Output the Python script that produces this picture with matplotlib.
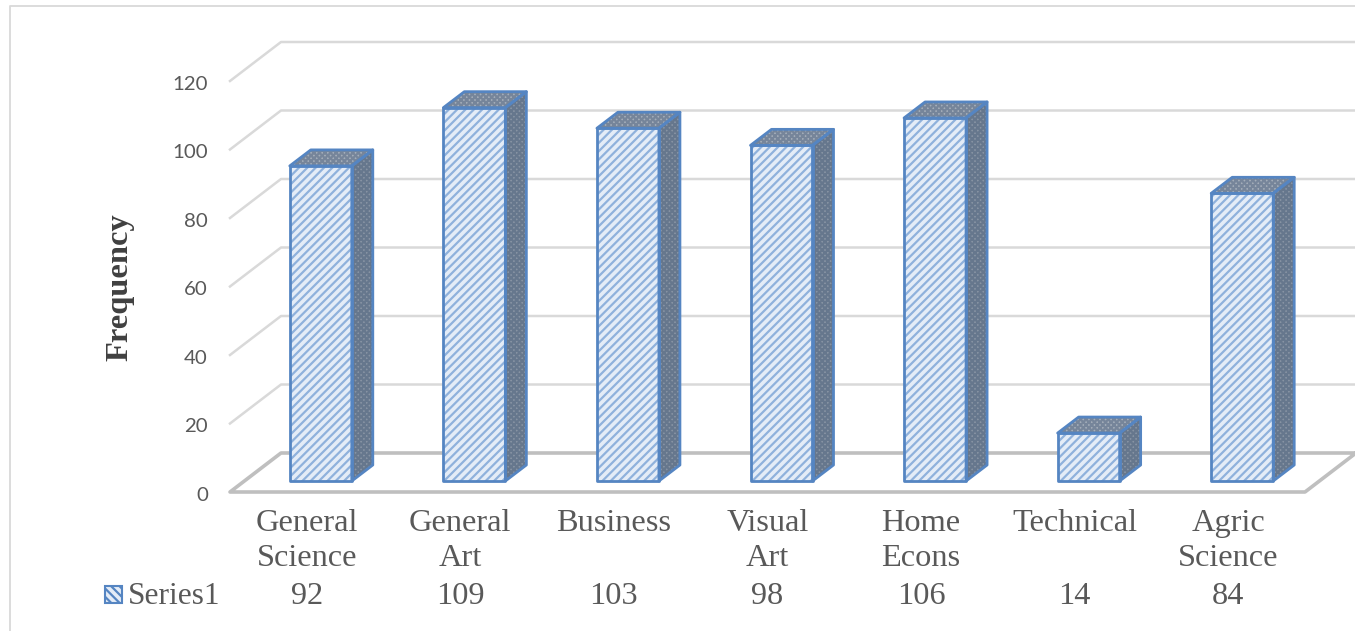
import matplotlib
matplotlib.use("Agg")
import matplotlib.pyplot as plt
from matplotlib.patches import Polygon, Rectangle
from matplotlib.lines import Line2D
from matplotlib.transforms import Affine2D, IdentityTransform

categories = ["General\nScience", "General\nArt", "Business", "Visual\nArt", "Home\nEcons", "Technical", "Agric\nScience"]
values = [92, 109, 103, 98, 106, 14, 84]
series_name = "Series1"
y_ticks = [0, 20, 40, 60, 80, 100, 120]

W, H = 1355, 631
BLUE = "#5585c2"
TEXT = "#595959"
SERIF = "Liberation Serif"
plt.rcParams["hatch.linewidth"] = 1.6

fig = plt.figure(figsize=(W / 100, H / 100), dpi=100)
ax = fig.add_axes([230 / W, (H - 492) / H, 1075 / W, 411 / H])
ax.set_xlim(0, 7)
ax.set_ylim(0, 120)
ax.patch.set_visible(False)
for s in ax.spines.values():
    s.set_visible(False)


# oblique 3d look: shift in pixels from the front plane
def shifted(dx, dy):
    return ax.transData + Affine2D().translate(dx, dy)


pixels = IdentityTransform()

# back wall gridlines, side line + back line
for t in y_ticks[1:]:
    x0, y0 = ax.transData.transform((0, t))
    ax.add_line(Line2D([x0, x0 + 51, W], [y0, y0 + 39, y0 + 39], color="#d9d9d9", lw=1.8,
                       transform=pixels, clip_on=False, zorder=1))

# floor
fx0, fy0 = ax.transData.transform((0, 0))
fx1, fy1 = ax.transData.transform((7, 0))
ax.add_line(Line2D([W, fx0 + 51, fx0, fx1, fx1 + 51], [fy0 + 39, fy0 + 39, fy0, fy1, fy1 + 39],
                   color="#bfbfbf", lw=2.6, transform=pixels, clip_on=False, zorder=1.5))

# bars
bar_w = 62 / (1075 / 7)
front = shifted(14, 11)
for i, v in enumerate(values):
    x0 = i + 0.5 - bar_w / 2
    x1 = x0 + bar_w
    fx, fy = front.transform((x0, 0))
    fx2, fy2 = front.transform((x1, v))
    side = [(fx2, fy), (fx2, fy2), (fx2 + 21, fy2 + 16), (fx2 + 21, fy + 16)]
    top = [(fx, fy2), (fx2, fy2), (fx2 + 21, fy2 + 16), (fx + 21, fy2 + 16)]
    ax.add_patch(Polygon(side, closed=True, transform=pixels, facecolor="#8894a4", edgecolor="#66778d",
                         hatch="xxxxxx", lw=0, zorder=3))
    ax.add_patch(Polygon(top, closed=True, transform=pixels, facecolor="#a4aeba", edgecolor="#76859a",
                         hatch="xxxxxx", lw=0, zorder=3))
    for pts in (side, top):
        ax.add_patch(Polygon(pts, closed=True, transform=pixels, fill=False, edgecolor=BLUE, lw=2.0,
                             joinstyle="round", zorder=4))
    ax.add_patch(Rectangle((x0, 0), bar_w, v, transform=front, facecolor="#e4ecf7", edgecolor="#8fb1dc",
                           hatch="////", lw=0, zorder=3))
    ax.add_patch(Rectangle((x0, 0), bar_w, v, transform=front, fill=False, edgecolor=BLUE, lw=2.0,
                           joinstyle="round", zorder=4))

# axes text
ax.set_yticks(y_ticks)
ax.set_yticklabels([str(t) for t in y_ticks], fontfamily="Lato", fontsize=14.7, color=TEXT)
ax.set_xticks([i + 0.5 for i in range(len(categories))])
ax.set_xticklabels(categories, fontfamily=SERIF, fontsize=23.3, color=TEXT, linespacing=1.28)
ax.tick_params(axis="y", length=0, pad=16)
ax.tick_params(axis="x", length=0, pad=12)
for lab in ax.get_yticklabels():
    lab.set_transform(lab.get_transform() + Affine2D().translate(0, -2))

fig.text(120 / W, (H - 287) / H, "Frequency", rotation=90, ha="center", va="center",
         fontfamily=SERIF, fontsize=23.4, fontweight="bold", color="#404040")

# data table row
for i, v in enumerate(values):
    px = ax.transData.transform((i + 0.5, 0))[0]
    fig.text(px / W, (H - 597) / H, str(v), ha="center", va="center", fontfamily=SERIF, fontsize=23.3, color=TEXT)
fig.text(128 / W, (H - 597) / H, series_name, ha="left", va="center", fontfamily=SERIF, fontsize=22.6, color=TEXT)
fig.add_artist(Rectangle((105 / W, (H - 603) / H), 17 / W, 17 / H, transform=fig.transFigure, facecolor="#e4ecf7",
                         edgecolor=BLUE, hatch="\\\\\\\\", lw=1.5))

# chart frame
fig.add_artist(Line2D([10 / W, 10 / W, 1.0], [0, (H - 5.5) / H, (H - 5.5) / H], color="#d9d9d9", lw=1.3))

fig.savefig("out.png", dpi=100)
